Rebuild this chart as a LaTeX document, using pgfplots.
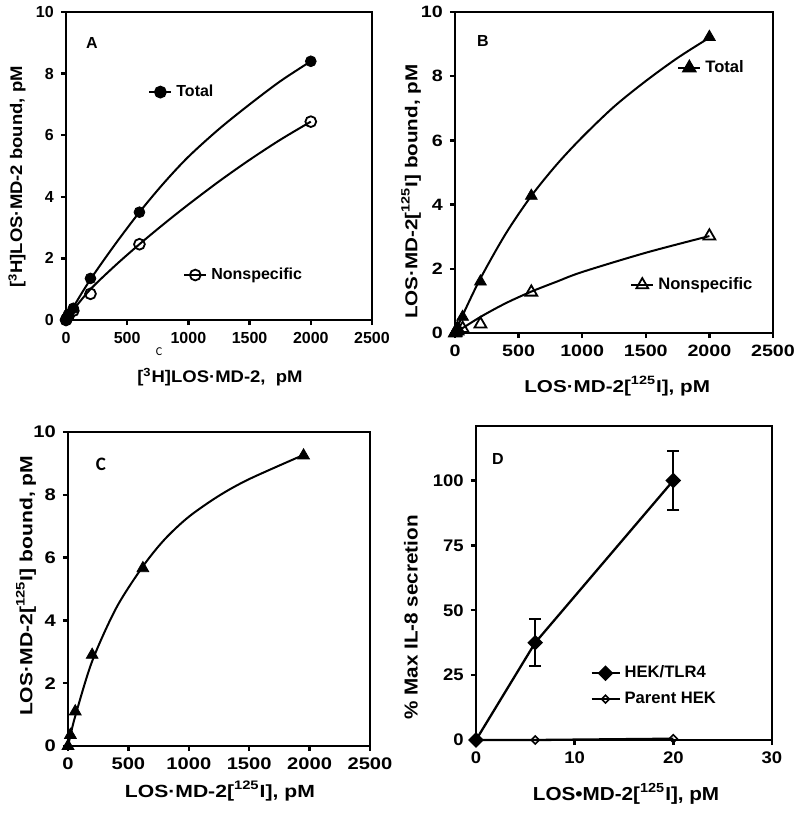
\documentclass[border=0pt]{standalone}
\usepackage{pgfplots}
\pgfplotsset{compat=1.18}
\usepackage{fontspec}
\setmainfont{Liberation Sans}
\newfontfamily\wA{Liberation Sans}[FakeStretch=1.1]
\newfontfamily\wB{Liberation Sans}[FakeStretch=1.2]
\newfontfamily\calibri{Carlito}

\tikzset{boxline/.style={line width=1.2pt, black}}
\pgfplotsset{
  panel/.style={
    scale only axis, anchor=south west, clip=false,
    axis line style={line width=1.2pt},
    every tick/.style={line width=1.2pt, black},
    tick align=outside, major tick length=2.6pt,
    xtick pos=bottom, ytick pos=left,
    tick label style={font=\bfseries\fontsize{8}{9}\selectfont},
    label style={font=\wA\bfseries\fontsize{8.4}{10}\selectfont},
    /pgf/number format/assume math mode=true,
    /pgf/number format/1000 sep={},
    legend image code/.code={\draw[mark repeat=2,mark phase=2,##1] plot coordinates {(0pt,0pt) (5.5pt,0pt) (11pt,0pt)};},
    legend style={draw=none, fill=none, inner xsep=0pt, inner ysep=0pt, anchor=west,
      font=\bfseries\fontsize{8}{9.6}\selectfont},
  },
  ghost/.style={panel, axis line style={draw=none}, xtick=\empty, ytick=\empty},
  curve/.style={black, line width=1pt, smooth, no markers},
}

\begin{document}
\begin{tikzpicture}
\useasboundingbox (0pt,0pt) rectangle (400pt,408pt);

% ---- A ----
\begin{axis}[ghost, at={(33pt,248pt)}, width=153pt, height=154pt,
  xmin=0, xmax=2500, ymin=0, ymax=10,
  legend style={at={(axis description cs:0.382,0.146)}}]
\addlegendimage{black, line width=1pt, mark=o, mark size=2.7pt, mark options={line width=0.9pt}}
\addlegendentry{Nonspecific}
\addplot[curve] coordinates {(0,0) (60,0.33) (200,1.0) (400,1.76) (600,2.46) (800,3.12) (1000,3.75) (1250,4.5) (1500,5.2) (1750,5.85) (2000,6.44)};
\addplot[only marks, mark=o, mark size=2.7pt, black, mark options={line width=0.9pt, fill=white}] coordinates {(0,0) (6,0.04) (20,0.12) (60,0.3) (200,0.85) (600,2.46) (2000,6.44)};
\end{axis}
\begin{axis}[panel, at={(33pt,248pt)}, width=153pt, height=154pt,
  xmin=0, xmax=2500, ymin=0, ymax=10,
  xtick={0,500,...,2500}, ytick={0,2,...,10},
  xlabel={[\textsuperscript{3}H]LOS·MD-2,\ \ pM},
  ylabel={[\textsuperscript{3}H]LOS·MD-2 bound, pM},
  xlabel style={at={(axis description cs:0.503,-0.185)}, anchor=center},
  ylabel style={at={(axis description cs:-0.16,0.464)}, anchor=center},
  legend style={at={(axis description cs:0.268,0.74)}}]
\addlegendimage{black, line width=1pt, mark=*, mark size=2.7pt}
\addlegendentry{Total}
\addplot[curve] coordinates {(0,0) (60,0.42) (200,1.32) (400,2.45) (600,3.5) (800,4.45) (1000,5.3) (1250,6.2) (1500,7.0) (1750,7.75) (2000,8.4)};
\addplot[only marks, mark=*, mark size=2.7pt, black] coordinates {(0,0) (6,0.06) (20,0.18) (60,0.38) (200,1.35) (600,3.5) (2000,8.4)};
\draw[boxline] (rel axis cs:0,1) -- (rel axis cs:1,1) -- (rel axis cs:1,0);
\node[font=\bfseries\fontsize{8}{9}\selectfont] at (axis description cs:0.085,0.90) {A};
\node[font=\calibri\fontsize{6}{7}\selectfont] at (axis description cs:0.304,-0.104) {C};
\end{axis}

% ---- B ----
\begin{axis}[ghost, at={(227.5pt,241.5pt)}, width=159pt, height=160.5pt,
  xmin=0, xmax=2500, ymin=0, ymax=10,
  legend style={at={(axis description cs:0.55,0.15)}, font=\bfseries\fontsize{8.3}{9.6}\selectfont}]
\addlegendimage{black, line width=1pt, mark=triangle, mark size=3.4pt, mark options={line width=0.9pt}}
\addlegendentry{Nonspecific}
\addplot[curve] coordinates {(0,0) (200,0.5) (400,0.93) (600,1.29) (800,1.6) (1000,1.9) (1500,2.5) (2000,3.02)};
\addplot[only marks, mark=triangle, mark size=3.4pt, black, mark options={line width=0.9pt, fill=white}] coordinates {(0,0) (6,0.02) (20,0.06) (60,0.14) (200,0.28) (600,1.27) (2000,3.02)};
\end{axis}
\begin{axis}[panel, at={(227.5pt,241.5pt)}, width=159pt, height=160.5pt,
  xmin=0, xmax=2500, ymin=0, ymax=10,
  xtick={0,500,...,2500}, ytick={0,2,...,10},
  tick label style={font=\wB\bfseries\fontsize{8.2}{9}\selectfont},
  label style={font=\wB\bfseries\fontsize{8.6}{10}\selectfont},
  xlabel={LOS·MD-2[\textsuperscript{125}I], pM},
  ylabel={LOS·MD-2[\textsuperscript{125}I] bound, pM},
  xlabel style={at={(axis description cs:0.51,-0.165)}, anchor=center},
  ylabel style={at={(axis description cs:-0.138,0.44)}, anchor=center},
  legend style={at={(axis description cs:0.698,0.826)}, font=\bfseries\fontsize{8.3}{9.6}\selectfont}]
\addlegendimage{black, line width=1pt, mark=triangle*, mark size=3.4pt}
\addlegendentry{Total}
\addplot[curve] coordinates {(0,0) (60,0.55) (200,1.7) (400,3.1) (600,4.27) (800,5.25) (1000,6.1) (1250,7.05) (1500,7.85) (1750,8.57) (2000,9.2)};
\addplot[only marks, mark=triangle*, mark size=3.4pt, black] coordinates {(0,0) (6,0.05) (20,0.17) (60,0.5) (200,1.6) (600,4.27) (2000,9.22)};
\draw[boxline] (rel axis cs:0,1) -- (rel axis cs:1,1) -- (rel axis cs:1,0);
\node[font=\bfseries\fontsize{8}{9}\selectfont] at (axis description cs:0.088,0.91) {B};
\end{axis}

% ---- C ----
\begin{axis}[panel, at={(34pt,35pt)}, width=151pt, height=157pt,
  xmin=0, xmax=2500, ymin=0, ymax=10,
  xtick={0,500,...,2500}, ytick={0,2,...,10},
  tick label style={font=\wB\bfseries\fontsize{8.4}{9}\selectfont},
  label style={font=\wB\bfseries\fontsize{8.8}{10}\selectfont},
  xlabel={LOS·MD-2[\textsuperscript{125}I], pM},
  ylabel={LOS·MD-2[\textsuperscript{125}I] bound, pM},
  xlabel style={at={(axis description cs:0.503,-0.143)}, anchor=center},
  ylabel style={at={(axis description cs:-0.139,0.51)}, anchor=center}]
\addplot[curve] coordinates {(0,0) (20,0.33) (60,0.95) (200,2.7) (400,4.4) (620,5.72) (800,6.58) (1000,7.3) (1250,7.97) (1500,8.5) (1950,9.27)};
\addplot[only marks, mark=triangle*, mark size=3.4pt, black] coordinates {(0,0) (20,0.35) (60,1.1) (200,2.9) (620,5.66) (1950,9.25)};
\node[font=\calibri\bfseries\fontsize{9.5}{10}\selectfont] at (axis description cs:0.109,0.898) {C};
\end{axis}

% ---- D ----
\begin{axis}[panel, at={(238pt,38pt)}, width=148pt, height=157pt,
  xmin=0, xmax=30, ymin=0, ymax=121,
  xtick={0,10,20,30}, ytick={0,25,50,75,100},
  tick label style={font=\wA\bfseries\fontsize{8.4}{9}\selectfont},
  label style={font=\wA\bfseries\fontsize{9.4}{11}\selectfont},
  xlabel={LOS•MD-2[\textsuperscript{125}I], pM},
  ylabel={\% Max IL-8 secretion},
  xlabel style={at={(axis description cs:0.507,-0.172)}, anchor=center},
  ylabel style={at={(axis description cs:-0.22,0.39)}, anchor=center},
  legend image code/.code={\draw[mark repeat=2,mark phase=2,#1] plot coordinates {(0pt,0pt) (7pt,0pt) (14pt,0pt)};},
  legend style={at={(axis description cs:0.385,0.172)}, row sep=1.6pt,
    font=\bfseries\fontsize{8.3}{9}\selectfont},
  legend cell align=left]
\addplot[black, line width=1.15pt, mark=square*, mark size=2.2pt, mark options={rotate=45},
  error bars/.cd, y dir=both, y explicit,
  error bar style={line width=0.9pt},
  error mark options={rotate=90, mark size=3pt, line width=0.9pt}]
  coordinates {(0,0) +- (0,0) (6,37.5) +- (0,9) (20,100) +- (0,11.5)};
\addlegendentry{HEK/TLR4}
\addplot[black, line width=1.15pt, mark=square, mark size=1.4pt, mark options={rotate=45, fill=white, line width=0.8pt}]
  coordinates {(0,0) (6,0) (20,0.5)};
\addlegendentry{Parent HEK}
\node[font=\bfseries\fontsize{8}{9}\selectfont] at (axis description cs:0.074,0.895) {D};
\end{axis}
\end{tikzpicture}
\end{document}
